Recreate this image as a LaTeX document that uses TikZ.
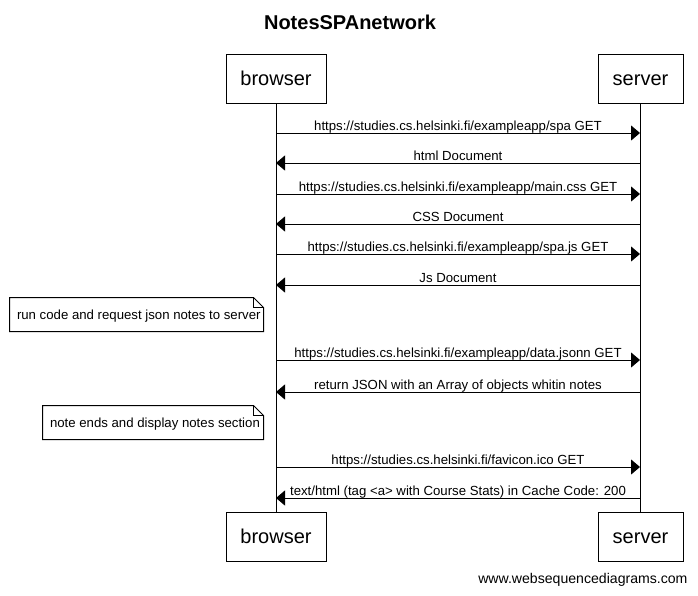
\documentclass[tikz,border=0pt]{standalone}
\usepackage{fontspec}
\setmainfont{Liberation Sans}
\usetikzlibrary{arrows.meta}
\begin{document}
\begin{tikzpicture}[x=1pt,y=-1pt,line width=1pt,
  actor/.style={draw,fill=white,inner sep=0pt,minimum height=49pt,text height=14.5pt,text depth=0pt,font=\fontsize{20}{22}\selectfont},
  msg/.style={-{Triangle[length=9pt,width=15pt]}},
  lbl/.style={anchor=base,yshift=3pt,inner sep=0pt,font=\fontsize{13.2}{15}\selectfont},
  notebox/.style={inner sep=0pt,minimum height=33pt,font=\fontsize{13.2}{15}\selectfont},
  notedraw/.style={draw,fill=white}]
\useasboundingbox (0,0) rectangle (698,595);
\node[font=\bfseries\fontsize{20}{24}\selectfont] (title) at (350,22) {NotesSPAnetwork};
\node[actor,minimum width=100pt] (bt) at (276,78.5) {browser};
\node[actor,minimum width=85pt] (st) at (640.5,78.5) {server};
\node[actor,minimum width=100pt] (bb) at (276,536.5) {browser};
\node[actor,minimum width=85pt] (sb) at (640.5,536.5) {server};
\draw (bt.south) -- (bb.north);
\draw (st.south) -- (sb.north);
% message endpoints
\foreach \i/\y in {1/133,2/163,3/194,4/224,5/254,6/285,7/360,8/392,9/467,10/498}{
  \coordinate (b\i) at (276,\y);
  \coordinate (s\i) at (640,\y);
}
\draw[msg] (b1) -- (s1) node[lbl,midway] {https://studies.cs.helsinki.fi/exampleapp/spa GET};
\draw[msg] (s2) -- (b2) node[lbl,midway] {html Document};
\draw[msg] (b3) -- (s3) node[lbl,midway] {https://studies.cs.helsinki.fi/exampleapp/main.css GET};
\draw[msg] (s4) -- (b4) node[lbl,midway] {CSS Document};
\draw[msg] (b5) -- (s5) node[lbl,midway] {https://studies.cs.helsinki.fi/exampleapp/spa.js GET};
\draw[msg] (s6) -- (b6) node[lbl,midway] {Js Document};
\draw[msg] (b7) -- (s7) node[lbl,midway] {https://studies.cs.helsinki.fi/exampleapp/data.jsonn GET};
\draw[msg] (s8) -- (b8) node[lbl,midway] {return JSON with an Array of objects whitin notes};
\draw[msg] (b9) -- (s9) node[lbl,midway] {https://studies.cs.helsinki.fi/favicon.ico GET};
\draw[msg] (s10) -- (b10) node[lbl,midway] {text/html (tag <a> with Course Stats) in Cache Code: 200};
% notes
\node[notebox,minimum width=253pt] (n1) at (136.5,314.5) {};
\draw[notedraw] (n1.north west) -- ([xshift=-10pt]n1.north east) -- ([yshift=-10pt]n1.north east) -- (n1.south east) -- (n1.south west) -- cycle;
\draw ([xshift=-10pt]n1.north east) |- ([yshift=-10pt]n1.north east);
\node[notebox,anchor=west] (t1) at ([xshift=7pt,yshift=-2pt]n1.west) {run code and request json notes to server};
\node[notebox,minimum width=220pt] (n2) at (153,422.5) {};
\draw[notedraw] (n2.north west) -- ([xshift=-10pt]n2.north east) -- ([yshift=-10pt]n2.north east) -- (n2.south east) -- (n2.south west) -- cycle;
\draw ([xshift=-10pt]n2.north east) |- ([yshift=-10pt]n2.north east);
\node[notebox,anchor=west] (t2) at ([xshift=7pt,yshift=-2pt]n2.west) {note ends and display notes section};
\node[anchor=east,inner sep=0pt,font=\fontsize{14.1}{16}\selectfont] (foot) at (688,580) {www.websequencediagrams.com};
\end{tikzpicture}
\end{document}
